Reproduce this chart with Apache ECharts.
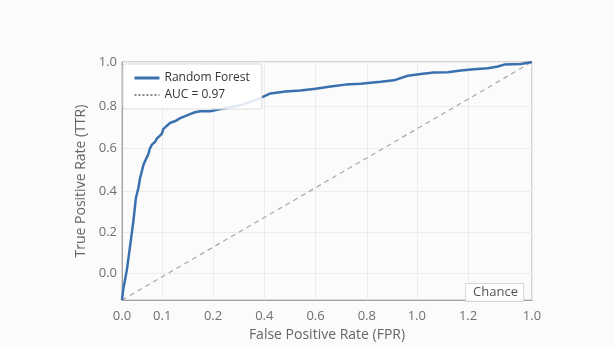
<!DOCTYPE html>
<html>
<head>
<meta charset="utf-8">
<script src="https://cdn.jsdelivr.net/npm/echarts@6/dist/echarts.min.js"></script>
<style>
html,body{margin:0;padding:0;background:#ffffff;}
#chart{width:615px;height:347px;}
</style>
</head>
<body>
<div id="chart"></div>
<script>
// ROC curve points [FPR, TPR]
const rocFpr = [0, 0.003, 0.012, 0.020, 0.028, 0.034, 0.040, 0.044, 0.052, 0.056, 0.064, 0.068, 0.073, 0.081, 0.085, 0.089, 0.097, 0.101, 0.105, 0.117, 0.130, 0.142, 0.154, 0.166, 0.178, 0.191, 0.215, 0.240, 0.264, 0.296, 0.330, 0.362, 0.399, 0.435, 0.472, 0.509, 0.545, 0.582, 0.631, 0.663, 0.697, 0.729, 0.760, 0.795, 0.826, 0.858, 0.892, 0.917, 0.932, 0.973, 1.0];
const rocTpr = [0, 0.045, 0.128, 0.231, 0.335, 0.430, 0.471, 0.512, 0.566, 0.583, 0.612, 0.636, 0.653, 0.665, 0.678, 0.686, 0.698, 0.719, 0.723, 0.744, 0.752, 0.764, 0.773, 0.781, 0.789, 0.793, 0.793, 0.802, 0.810, 0.822, 0.843, 0.868, 0.876, 0.880, 0.888, 0.897, 0.905, 0.909, 0.917, 0.923, 0.942, 0.950, 0.956, 0.957, 0.964, 0.970, 0.974, 0.981, 0.989, 0.992, 1.0];
const chanceFpr = [0, 1];
const chanceTpr = [0, 1];

// tick positions (data space) and the labels printed at them
const xTickValues = [0, 0.098, 0.222, 0.347, 0.472, 0.597, 0.719, 0.844, 1.0];
const xTickLabels = ["0.0", "0.1", "0.2", "0.4", "0.6", "0.8", "1.0", "1.2", "1.0"];
const yTickValues = [0.112, 0.285, 0.459, 0.636, 0.814, 1.0];
const yTickLabels = ["0.0", "0.2", "0.4", "0.6", "0.8", "1.0"];

const seriesNames = ["Random Forest", "AUC = 0.97", "Chance"];

const pair = (xs, ys) => xs.map((x, i) => [x, ys[i]]);
const findLabel = (vals, labels, v) => {
  let best = 0, bd = Infinity;
  vals.forEach((t, i) => { const d = Math.abs(t - v); if (d < bd) { bd = d; best = i; } });
  return labels[best];
};

const FONT = '"Open Sans", "Noto Sans", sans-serif';
const chart = echarts.init(document.getElementById('chart'));
chart.setOption({
  backgroundColor: '#fbfbfc',
  animation: false,
  textStyle: { fontFamily: FONT },
  grid: { left: 122, right: 83, top: 62, bottom: 43, show: true, borderColor: '#b0b0b0', borderWidth: 1, backgroundColor: 'transparent' },
  title: {
    text: seriesNames[2],
    right: 91, bottom: 45,
    padding: [3, 6, 3, 8],
    borderColor: '#d6d6d6', borderWidth: 1,
    backgroundColor: 'rgba(255,255,255,0.9)',
    textStyle: { fontFamily: FONT, fontSize: 13, fontWeight: 'normal', color: '#555' }
  },
  legend: {
    orient: 'vertical',
    left: 123, top: 64,
    padding: [8, 12, 8, 10],
    itemGap: 5,
    itemWidth: 25, itemHeight: 12,
    borderColor: '#dcdcdc', borderWidth: 1, borderRadius: 2,
    backgroundColor: 'rgba(255,255,255,0.85)',
    itemStyle: { opacity: 0 },
    data: [
      { name: seriesNames[0], lineStyle: { width: 3 } },
      { name: seriesNames[1] }
    ],
    textStyle: { fontFamily: FONT, fontSize: 12, color: '#333' }
  },
  xAxis: {
    type: 'value', min: 0, max: 1,
    name: 'False Positive Rate (FPR)', nameLocation: 'middle', nameGap: 27,
    nameTextStyle: { fontFamily: FONT, fontSize: 14, color: '#666' },
    axisLine: { show: true, lineStyle: { color: '#a0a0a0' } },
    axisTick: { show: false, customValues: xTickValues },
    axisLabel: {
      customValues: xTickValues, margin: 10,
      fontFamily: FONT, fontSize: 13, color: '#707070',
      formatter: v => findLabel(xTickValues, xTickLabels, v)
    },
    splitLine: { show: true, lineStyle: { color: '#ececec' } }
  },
  yAxis: {
    type: 'value', min: 0, max: 1,
    name: 'True Positive Rate (TTR)', nameLocation: 'middle', nameGap: 34,
    nameTextStyle: { fontFamily: FONT, fontSize: 14, color: '#666' },
    axisLine: { show: true, lineStyle: { color: '#a0a0a0' } },
    axisTick: { show: false, customValues: yTickValues },
    axisLabel: {
      customValues: yTickValues, margin: 5,
      fontFamily: FONT, fontSize: 13, color: '#707070',
      formatter: v => findLabel(yTickValues, yTickLabels, v)
    },
    splitLine: { show: true, lineStyle: { color: '#ececec' } }
  },
  series: [
    {
      name: seriesNames[2], type: 'line', symbol: 'none', silent: true,
      data: pair(chanceFpr, chanceTpr),
      lineStyle: { color: '#a8a8a8', width: 1.2, type: [5, 4] },
      itemStyle: { color: '#a8a8a8' }, z: 2
    },
    {
      name: seriesNames[0], type: 'line', symbol: 'none',
      data: pair(rocFpr, rocTpr),
      lineStyle: { color: '#3a70ad', width: 2.5 },
      itemStyle: { color: '#3a70ad' }, z: 3
    },
    {
      name: seriesNames[1], type: 'line', symbol: 'none',
      data: [],
      lineStyle: { color: '#888', width: 1.5, type: [2, 2] },
      itemStyle: { color: '#888' }
    }
  ]
});
</script>
</body>
</html>
